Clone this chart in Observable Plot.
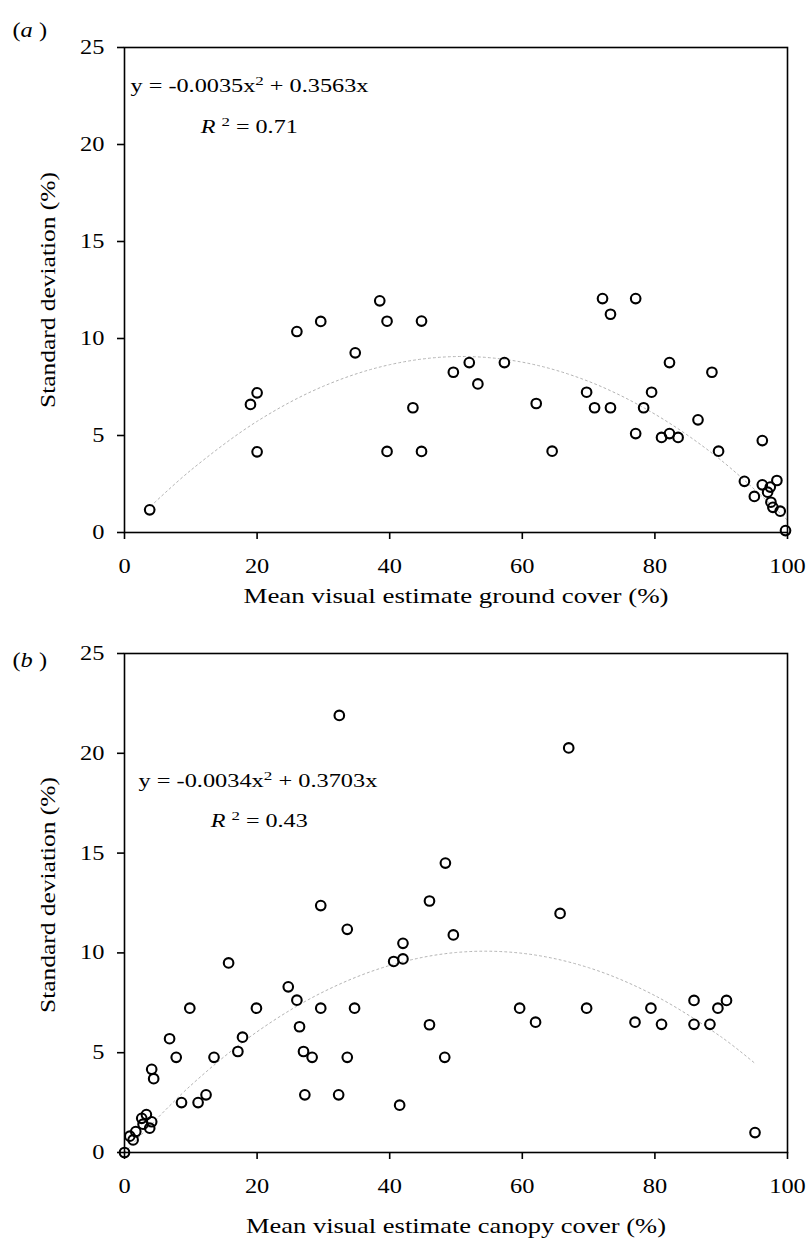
<!DOCTYPE html>
<html><head><meta charset="utf-8">
<script src="https://cdn.jsdelivr.net/npm/d3@7"></script>
<script src="https://cdn.jsdelivr.net/npm/@observablehq/plot@0.6"></script>
<style>
body{margin:0;background:#fff}
#chart svg{display:block}
</style>
</head><body><div id="chart"></div>
<script>
// Panel (a): ground cover
const groundMean = [3.8,19.0,20.0,20.0,26.0,29.6,34.8,38.5,39.6,39.6,43.5,44.8,44.8,49.6,52.0,53.3,57.3,62.1,64.5,69.7,70.9,72.1,73.3,73.3,77.1,77.1,78.3,79.5,81.0,82.2,82.2,83.5,86.5,88.6,89.6,93.5,95.0,96.2,96.2,97.4,97.0,98.4,97.5,97.8,98.9,99.7];
const groundSD   = [1.17,6.6,7.2,4.16,10.36,10.88,9.26,11.94,10.89,4.18,6.43,10.9,4.18,8.26,8.76,7.66,8.76,6.65,4.19,7.23,6.43,12.06,6.43,11.25,12.06,5.1,6.43,7.23,4.9,8.76,5.1,4.9,5.81,8.26,4.19,2.64,1.86,4.74,2.46,2.34,2.08,2.68,1.56,1.3,1.1,0.1];
// fitted curve
const groundFitX = [4,10,20,30,40,50,60,70,80,90,100];
const groundFitY = [1.37,3.21,5.73,7.54,8.65,9.07,8.78,7.79,6.10,3.72,0.63];

// Panel (b): canopy cover
const canopyMean = [0,0.8,1.3,1.7,2.6,3.3,2.8,3.8,4.1,4.1,4.4,6.8,7.8,8.6,9.85,11.1,12.3,13.5,15.7,17.1,17.8,19.9,24.7,26.0,26.4,27.0,27.2,28.3,29.6,29.6,32.3,32.4,33.6,33.6,34.7,40.6,41.5,42.0,42.0,46.0,46.0,48.4,48.3,49.6,59.6,62.0,65.7,67.0,69.7,77.0,79.4,81.0,85.9,85.9,88.3,89.5,90.8,95.1];
const canopySD   = [0,0.82,0.63,1.05,1.71,1.9,1.42,1.22,1.54,4.17,3.7,5.7,4.77,2.5,7.23,2.5,2.89,4.77,9.5,5.06,5.78,7.23,8.3,7.63,6.3,5.06,2.89,4.77,7.23,12.37,2.89,21.9,4.77,11.18,7.23,9.57,2.37,10.48,9.7,12.6,6.4,14.5,4.77,10.9,7.23,6.53,11.98,20.27,7.23,6.53,7.23,6.42,7.62,6.42,6.42,7.23,7.62,1.0];
const canopyFitX = [0,10,20,30,40,50,60,70,80,90,95];
const canopyFitY = [0,3.36,6.05,8.05,9.37,10.02,9.98,9.26,7.86,5.79,4.49];

const xTicks = [0,20,40,60,80,100];
const yTicks = [0,5,10,15,20,25];
const yLabel = "Standard deviation (%)";
const xLabelA = "Mean visual estimate ground cover (%)";
const xLabelB = "Mean visual estimate canopy cover (%)";

function panel(o) {
  const pts = o.xs.map((x,i)=>({x, y:o.ys[i]}));
  const fit = o.fx.map((x,i)=>({x, y:o.fy[i]}));
  return Plot.plot({
    width: 809, height: o.height,
    marginLeft: 124, marginRight: 22, marginTop: o.marginTop, marginBottom: o.marginBottom,
    style: {fontFamily: "'Liberation Serif', serif", fontSize: "19px", color: "black", background: "white", overflow: "visible"},
    x: {domain: [0,100]},
    y: {domain: [0,25]},
    marks: [
      Plot.line(fit, {x:"x", y:"y", stroke:"#b4b4b4", strokeWidth:1, strokeDasharray:"2,3", curve:"catmull-rom"}),
      Plot.frame({stroke:"black", strokeWidth:1.6}),
      Plot.axisX({ticks:xTicks, tickSize:7, tickPadding:19, strokeWidth:1.6, fontSize:20, label:null, tickFormat:d=>String(d)}),
      Plot.axisY({ticks:yTicks, tickSize:7, tickPadding:13, strokeWidth:1.6, fontSize:20, label:null, tickFormat:d=>String(d)}),
      Plot.dot(pts, {x:"x", y:"y", r:4.8, stroke:"black", strokeWidth:2.1, fill:"none"}),
      Plot.text([o.eq], {x:o.eqX, y:o.eqY, text:d=>d, textAnchor:"start", fontSize:19}),
      Plot.text([o.r2], {x:o.r2X, y:o.r2Y, text:d=>d, textAnchor:"start", fontSize:19}),
      Plot.text([o.tag], {frameAnchor:"top-left", dx:-112, dy:o.tagDy, text:d=>d, textAnchor:"start", fontSize:20}),
      Plot.text([o.xlabel], {frameAnchor:"bottom", dy:o.xlabDy, text:d=>d, textAnchor:"middle", fontSize:21}),
      Plot.text([yLabel], {frameAnchor:"left", dx:-77, dy:o.ylabDy, rotate:-90, text:d=>d, textAnchor:"middle", fontSize:22})
    ]
  });
}

function richify(svg) {
  d3.select(svg).selectAll("text").each(function() {
    const t = this.textContent;
    if (!/\^2|\*/.test(t)) return;
    const parts = t.split(/(\^2|\*[^*]+\*)/).filter(s => s !== "");
    const sel = d3.select(this);
    sel.text(null);
    parts.forEach(p => {
      if (p === "^2") {
        sel.append("tspan").attr("baseline-shift","super").attr("font-size","70%").text("2");
      } else if (p.startsWith("*")) {
        sel.append("tspan").attr("font-style","italic").text(p.slice(1,-1));
      } else {
        sel.append("tspan").text(p);
      }
    });
  });
  return svg;
}

// widen text to match the wide typesetting of the original figure
function widen(svg, targets, factor) {
  d3.select(svg).selectAll("text").each(function() {
    const len = this.getComputedTextLength();
    if (!len) return;
    const key = this.textContent;
    const tr = this.getAttribute("transform") || "";
    if (tr.includes("rotate") && targets[key] == null) return;
    const target = targets[key] != null ? targets[key] : len * factor;
    this.setAttribute("textLength", target);
    this.setAttribute("lengthAdjust", "spacingAndGlyphs");
  });
}

const a = panel({
  xs: groundMean, ys: groundSD, fx: groundFitX, fy: groundFitY,
  height: 620, marginTop: 47, marginBottom: 88,
  eq: "y = -0.0035x^2 + 0.3563x", eqX: 0.9, eqY: 23.0,
  r2: "*R* ^2 = 0.71", r2X: 11.5, r2Y: 20.9,
  tag: "(*a* )", tagDy: -25,
  xlabel: xLabelA, xlabDy: 70, ylabDy: 0
});
const b = panel({
  xs: canopyMean, ys: canopySD, fx: canopyFitX, fy: canopyFitY,
  height: 625, marginTop: 33, marginBottom: 93,
  eq: "y = -0.0034x^2 + 0.3703x", eqX: 2.1, eqY: 18.64,
  r2: "*R* ^2 = 0.43", r2X: 13.0, r2Y: 16.63,
  tag: "(*b* )", tagDy: -1,
  xlabel: xLabelB, xlabDy: 80, ylabDy: -8
});
document.getElementById("chart").append(richify(a), richify(b));
const targets = {
  [xLabelA]: 425, [xLabelB]: 420, [yLabel]: 236,
  "y = -0.0035x2 + 0.3563x": 238, "y = -0.0034x2 + 0.3703x": 239,
  "R 2 = 0.71": 97, "R 2 = 0.43": 97
};
widen(a, targets, 1.22);
widen(b, targets, 1.22);
</script>
</body></html>
